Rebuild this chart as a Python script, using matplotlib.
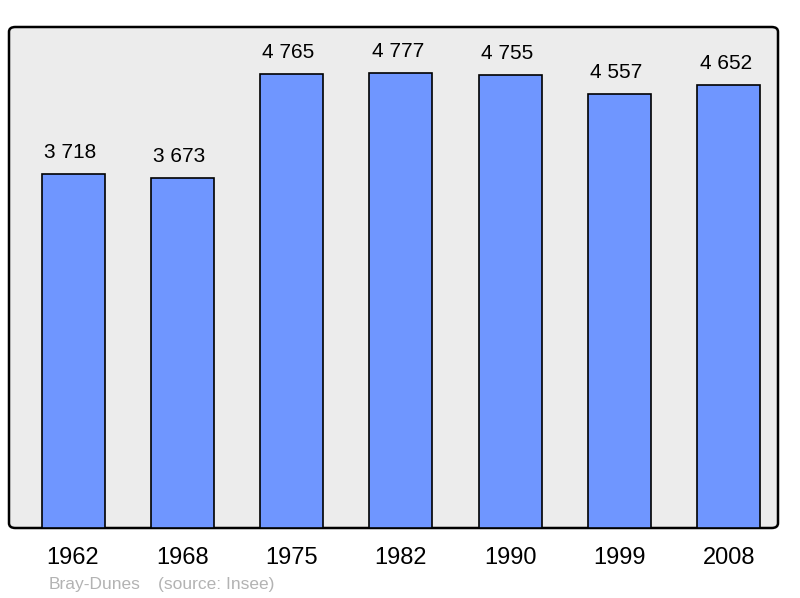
import matplotlib
matplotlib.use("Agg")
import matplotlib.pyplot as plt
from matplotlib.patches import FancyBboxPatch

years = ["1962", "1968", "1975", "1982", "1990", "1999", "2008"]
population = [3718, 3673, 4765, 4777, 4755, 4557, 4652]
value_labels = ["3 718", "3 673", "4 765", "4 777", "4 755", "4 557", "4 652"]
place = "Bray-Dunes"
source = "(source: Insee)"

W, H = 800, 598
plt.rcParams["font.family"] = ["Liberation Sans", "DejaVu Sans"]

fig = plt.figure(figsize=(W / 100, H / 100), dpi=100)

# panel in pixel coords
left, right, top, bottom = 9, 778, 27, 528
bg = FancyBboxPatch(
    (left / W, 1 - bottom / H),
    (right - left) / W,
    (bottom - top) / H,
    boxstyle="round,pad=0,rounding_size=0.008",
    transform=fig.transFigure,
    facecolor="#ececec",
    edgecolor="black",
    linewidth=1.8,
    zorder=0,
)
fig.patches.append(bg)

ax = fig.add_axes([left / W, 1 - bottom / H, (right - left) / W, (bottom - top) / H])
ax.set_zorder(2)
ax.set_facecolor("none")
for s in ax.spines.values():
    s.set_visible(False)

px_per_unit = 0.0952
step = 109.3
x = list(range(len(years)))
ax.bar(x, population, width=63 / step, color="#6f96ff", edgecolor="black",
       linewidth=1.2, zorder=2)
for xi, v, lab in zip(x, population, value_labels):
    ax.text(xi - 3 / step, v + 12 / px_per_unit, lab, ha="center", va="bottom",
            fontsize=15)

ax.set_xlim((left - 73) / step, (right - 73) / step)
ax.set_ylim(0, (bottom - top) / px_per_unit)
ax.set_xticks(x)
ax.set_xticklabels(years, fontsize=17)
ax.tick_params(axis="x", length=0, pad=14)
ax.set_yticks([])

fig.text(49 / W, 1 - 584 / H, place, color="#b3b3b3", fontsize=12.5, va="center")
fig.text(158 / W, 1 - 584 / H, source, color="#b3b3b3", fontsize=12.5, va="center")

fig.savefig("out.png", dpi=100)
